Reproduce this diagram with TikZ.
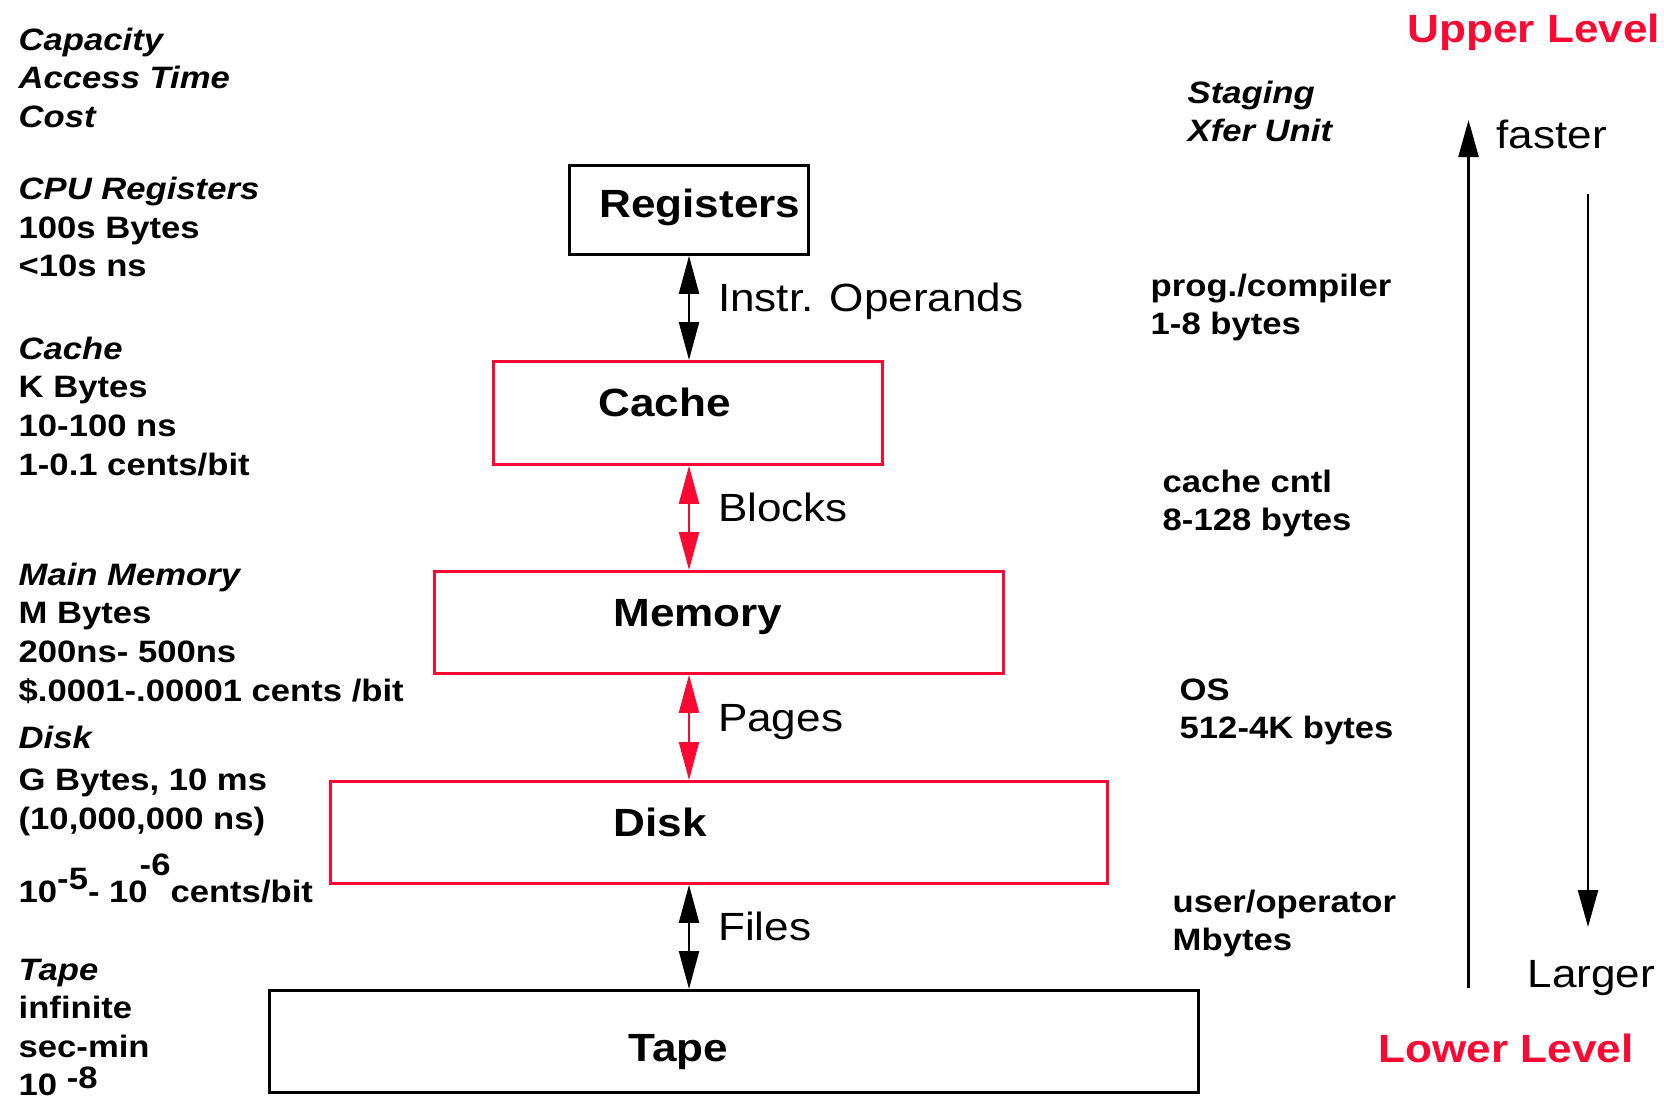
\documentclass[tikz,border=0pt]{standalone}
\usepackage{fontspec}
\setmainfont{Liberation Sans}[FakeStretch=1.12]
\usetikzlibrary{arrows.meta,positioning}
\definecolor{hired}{RGB}{250,10,50}
\newcommand{\smallfnt}{\fontsize{8.8}{11}\selectfont\bfseries}
\newcommand{\bigfnt}{\fontsize{11.2}{13.4}\selectfont}

\begin{document}
\begin{tikzpicture}[
	level/.style={draw, line width=0.8pt, anchor=north west, inner xsep=0pt, align=left, font=\bigfnt\bfseries, text height=0.30cm, text depth=0.22cm},
	info/.style={anchor=north west, inner sep=0pt, align=left, font=\smallfnt},
	lbl/.style={anchor=west, inner sep=0pt, xshift=0.28cm, yshift=0.1cm, font=\bigfnt, text height=0.28cm, text depth=0pt},
	link/.style={{Triangle[length=0.38cm,width=0.2cm]}-{Triangle[length=0.38cm,width=0.2cm]}, line width=0.6pt},
	trend/.style={-{Triangle[length=0.37cm,width=0.2cm]}, line width=0.7pt},
	tag/.style={anchor=base west, inner sep=0pt, font=\bigfnt}
	]
	\useasboundingbox[fill=white] (0,0) rectangle (16.64,-10.99);
	
	%Levels
	\node[level, text depth=0.14cm, text width=2.39cm, minimum height=0.89cm] (regs) at (5.68,-1.64) {\hspace*{0.30cm}Registers};
	\node[level, draw=hired, text width=3.89cm, minimum height=1.03cm] (cache) at (4.92,-3.60) {\hspace*{1.05cm}Cache};
	\node[level, draw=hired, text width=5.69cm, minimum height=1.02cm] (mem) at (4.33,-5.70) {\hspace*{1.79cm}Memory};
	\node[level, draw=hired, text width=7.77cm, minimum height=1.02cm] (disk) at (3.29,-7.80) {\hspace*{2.83cm}Disk};
	\node[level, text height=0.42cm, text depth=0.01cm, text width=9.29cm, minimum height=1.02cm] (tape) at (2.68,-9.89) {\hspace*{3.59cm}Tape};
	
	%Links
	\coordinate (ax) at (6.89,0);
	\draw[link] (regs.south -| ax) -- node[lbl]{Instr. Operands} (cache.north -| ax);
	\draw[link, hired] (cache.south -| ax) -- node[lbl, text=black]{Blocks} (mem.north -| ax);
	\draw[link, hired] (mem.south -| ax) -- node[lbl, text=black]{Pages} (disk.north -| ax);
	\draw[link] (disk.south -| ax) -- node[lbl]{Files} (tape.north -| ax);
	
	%Capacity, access time, cost
	\node[info] (capinfo) at (0.18,-0.27) {\textit{Capacity}\\\textit{Access Time}\\\textit{Cost}};
	\node[info] (reginfo) at (0.18,-1.765) {\textit{CPU Registers}\\100s Bytes\\<10s ns};
	\node[info] (cacheinfo) at (0.18,-3.36) {\textit{Cache}\\K Bytes\\10-100 ns\\1-0.1 cents/bit};
	\node[info] (meminfo) at (0.18,-5.62) {\textit{Main Memory}\\M Bytes\\200ns- 500ns\\\$.0001-.00001 cents /bit};
	\node[info] (diskinfo) at (0.18,-7.25) {\textit{Disk}\\[0.04cm]G Bytes, 10 ms\\(10,000,000 ns)\\[0.34cm]10\raisebox{0.13cm}[0pt][0pt]{-5}- 10\hspace{-0.08cm}\raisebox{0.27cm}[0pt][0pt]{-6}cents/bit};
	\node[info] (tapeinfo) at (0.18,-9.58) {\textit{Tape}\\infinite\\sec-min\\10 \raisebox{0.07cm}[0pt][0pt]{-8}};
	
	%Staging
	\node[info] (staging) at (11.87,-0.80) {\textit{Staging}\\\textit{Xfer Unit}};
	\node[info] (regxfer) at (11.50,-2.73) {prog./compiler\\1-8 bytes};
	\node[info] (cachexfer) at (11.62,-4.69) {cache cntl\\8-128 bytes};
	\node[info] (memxfer) at (11.79,-6.78) {OS\\512-4K bytes};
	\node[info] (diskxfer) at (11.72,-8.89) {user/operator\\Mbytes};
	
	%Upper and lower level
	\node[tag, text=hired, font=\bigfnt\bfseries] (upper) at (14.07,-0.42) {Upper Level};
	\node[tag] (faster) at (14.96,-1.48) {faster};
	\node[tag] (larger) at (15.27,-9.87) {Larger};
	\node[tag, text=hired, font=\bigfnt\bfseries] (lower) at (13.78,-10.62) {Lower Level};
	\coordinate (fastlo) at (14.685,-9.88);
	\coordinate (fasthi) at (14.685,-1.20);
	\coordinate (largehi) at (15.88,-1.94);
	\coordinate (largelo) at (15.88,-9.27);
	\draw[trend] (fastlo) -- (fasthi);
	\draw[trend] (largehi) -- (largelo);
	
\end{tikzpicture}
\end{document}
